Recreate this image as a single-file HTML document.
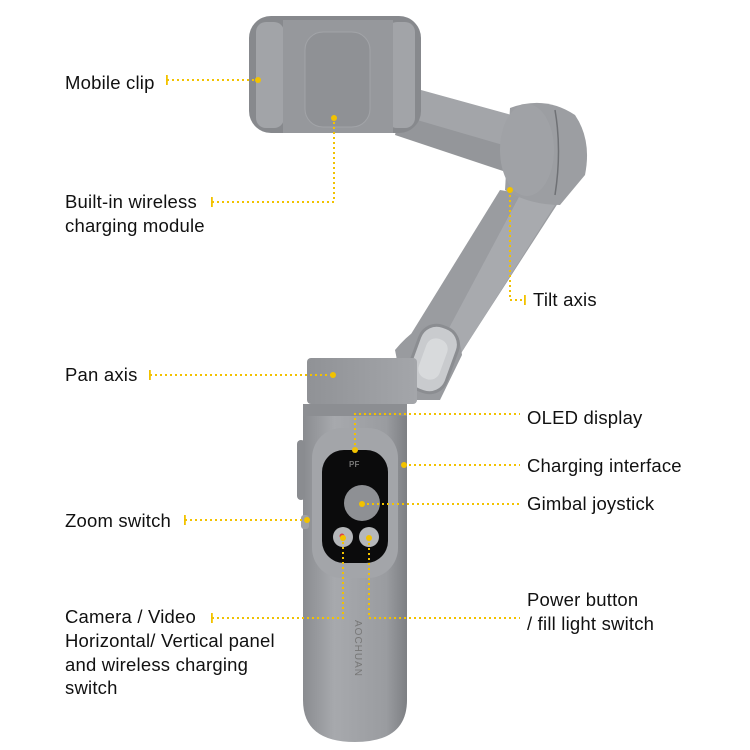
<!DOCTYPE html>
<html><head><meta charset="utf-8"><style>
html,body{margin:0;padding:0;background:#fff;}
svg{display:block}
text{font-family:"Liberation Sans",sans-serif;font-size:18.5px;fill:#111;letter-spacing:0.2px;}
</style></head><body>
<svg width="750" height="750" viewBox="0 0 750 750" xmlns="http://www.w3.org/2000/svg">
<defs>
<linearGradient id="g1" x1="0" x2="1"><stop offset="0" stop-color="#8a8c90"/><stop offset=".3" stop-color="#a7a9ad"/><stop offset=".8" stop-color="#9a9ca0"/><stop offset="1" stop-color="#7d7f83"/></linearGradient>
<linearGradient id="g2" x1="0" x2="1"><stop offset="0" stop-color="#909296"/><stop offset="1" stop-color="#a4a6aa"/></linearGradient>
</defs>
<path d="M500 190 L560 200 L450 370 L395 360 Z" fill="#9a9ca0"/>
<path d="M520 195 L555 205 L460 355 L440 345 Z" fill="#a8aaae"/>
<path d="M392 82 L530 120 L520 175 L392 130 Z" fill="#a3a5a9"/>
<path d="M400 115 L520 150 L515 175 L395 135 Z" fill="#94969a"/>
<path d="M510 108 Q545 95 575 115 Q592 140 585 175 L560 205 Q530 205 505 190 Z" fill="#9c9ea2"/>
<ellipse cx="527" cy="150" rx="27" ry="46" fill="#a0a2a6"/>
<path d="M555 110 Q562 150 555 195" stroke="#6f7175" stroke-width="1.5" fill="none"/>
<rect x="249" y="16" width="172" height="117" rx="22" fill="#87898d"/>
<rect x="256" y="22" width="28" height="106" rx="10" fill="#a2a4a8"/>
<rect x="387" y="22" width="28" height="106" rx="10" fill="#a2a4a8"/>
<rect x="283" y="20" width="110" height="113" fill="#96989c"/>
<rect x="305" y="32" width="65" height="95" rx="18" fill="#8f9195" stroke="#a2a4a8"/>
<path d="M395 350 Q420 320 440 325 Q460 330 462 355 L440 400 L405 400 Z" fill="#999b9f"/>
<rect x="413" y="325" width="40" height="68" rx="18" transform="rotate(20 433 359)" fill="#c9cbce" stroke="#8b8d91" stroke-width="3"/>
<rect x="422" y="338" width="22" height="42" rx="10" transform="rotate(20 433 359)" fill="#d8dadc"/>
<rect x="307" y="358" width="110" height="46" rx="4" fill="url(#g2)"/>
<path d="M303 404 L407 404 L407 700 Q407 742 355 742 Q303 742 303 700 Z" fill="url(#g1)"/>
<rect x="303" y="404" width="104" height="12" fill="#8c8e92"/>
<rect x="312" y="428" width="86" height="150" rx="30" fill="#a3a5a9"/>
<rect x="322" y="450" width="66" height="113" rx="22" fill="#0b0b0c"/>
<text x="349" y="467" style="font-size:8px;fill:#777;font-weight:bold">PF</text>
<circle cx="362" cy="503" r="18" fill="#8e9094"/>
<circle cx="343" cy="537" r="10" fill="#b5b7ba"/><circle cx="342" cy="536" r="2.5" fill="#d44"/>
<circle cx="369" cy="537" r="10" fill="#b5b7ba"/>
<rect x="297" y="440" width="8" height="60" rx="4" fill="#8a8c90"/>
<rect x="301" y="515" width="8" height="14" rx="3" fill="#9fa1a5"/>
<text transform="translate(355 620) rotate(90)" style="font-size:10px;fill:#777;letter-spacing:1px">AOCHUAN</text>
<g stroke="#f2c200" stroke-width="2" stroke-dasharray="2 3" fill="none">
<path d="M167 80 H258"/>
<path d="M212 202 H334 V118"/>
<path d="M510 190 V300 H525"/>
<path d="M150 375 H333"/>
<path d="M355 450 V414 H520"/>
<path d="M404 465 H520"/>
<path d="M362 504 H520"/>
<path d="M185 520 H307"/>
<path d="M212 618 H343 V538"/>
<path d="M369 538 V618 H520"/>
</g>
<g fill="#f2c200">
<circle cx="258" cy="80" r="3"/><circle cx="334" cy="118" r="3"/><circle cx="510" cy="190" r="3"/>
<circle cx="333" cy="375" r="3"/><circle cx="355" cy="450" r="3"/><circle cx="404" cy="465" r="3"/>
<circle cx="362" cy="504" r="3"/><circle cx="307" cy="520" r="3"/><circle cx="343" cy="538" r="3"/><circle cx="369" cy="538" r="3"/>
<rect x="166" y="75" width="1.8" height="10"/><rect x="211" y="197" width="1.8" height="10"/>
<rect x="524" y="295" width="1.8" height="10"/><rect x="149" y="370" width="1.8" height="10"/>
<rect x="184" y="515" width="1.8" height="10"/><rect x="211" y="613" width="1.8" height="10"/>
</g>
<text x="65" y="89">Mobile clip</text>
<text x="65" y="208">Built-in wireless</text>
<text x="65" y="232">charging module</text>
<text x="533" y="306">Tilt axis</text>
<text x="65" y="381">Pan axis</text>
<text x="527" y="424">OLED display</text>
<text x="527" y="472">Charging interface</text>
<text x="527" y="510">Gimbal joystick</text>
<text x="65" y="527">Zoom switch</text>
<text x="527" y="606">Power button</text>
<text x="527" y="630">/ fill light switch</text>
<text x="65" y="623">Camera / Video</text>
<text x="65" y="647">Horizontal/ Vertical panel</text>
<text x="65" y="671">and wireless charging</text>
<text x="65" y="694">switch</text>
</svg>
</body></html>
